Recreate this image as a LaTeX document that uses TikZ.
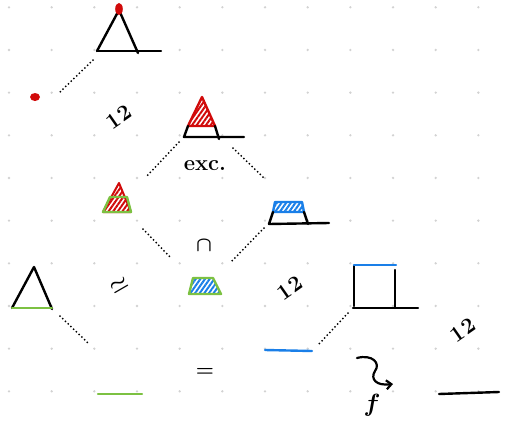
\documentclass[tikz,border=0pt]{standalone}
\usetikzlibrary{patterns.meta, arrows.meta}
\definecolor{inkRed}{HTML}{D10A0A}
\definecolor{inkGreen}{HTML}{7CC142}
\definecolor{inkBlue}{HTML}{1A7FE8}
\definecolor{gridDot}{HTML}{D2D2D2}

\begin{document}
\begin{tikzpicture}[x=1pt, y=-1pt,
  ink/.style={line width=2.4pt, line cap=round, line join=round},
  link/.style={line width=2pt, line cap=round, dash pattern=on 0pt off 3.8pt},
  hatchred/.style={pattern={Lines[angle=55,distance=3.8pt,line width=2pt]}, pattern color=inkRed},
  hatchblue/.style={pattern={Lines[angle=55,distance=3.8pt,line width=2pt]}, pattern color=inkBlue},
  lbl/.style={inner sep=0pt, font=\fontsize{22}{22}\selectfont\bfseries\boldmath}
]
\useasboundingbox (0,0) rectangle (509,426);
% dot grid
\foreach \i in {0,...,11}
  \foreach \j in {0,...,9}
    \fill[gridDot] (9+42.67*\i, 7.3+42.67*\j) circle (1.3);

% top triangle with red apex
\draw[ink] (97,51) -- (119,10) -- (138,53);
\draw[ink] (97,51) -- (161,51);
\fill[inkRed] (119,9) ellipse (3.8 and 6);
\fill[inkRed] (35,97) ellipse (5 and 4);
\coordinate (topL) at (93,60);
\coordinate (dotR) at (60,92);

% red hatched cone
\draw[ink, draw=inkRed, hatchred] (202,97) -- (188,126) -- (215,126) -- cycle;
\draw[ink] (188,126) -- (184,137) -- (244,137);
\draw[ink] (215,126) -- (219,139);
\coordinate (coneL) at (179,142);
\coordinate (coneR) at (233,148);

% red cone with green frustum
\draw[ink, line width=2pt, draw=inkRed, hatchred] (119,183) -- (103,212) -- (131,212) -- cycle;
\draw[ink, draw=inkGreen] (110,197) -- (127,197) -- (131,212) -- (103,212) -- cycle;
\coordinate (leftT) at (146,177);
\coordinate (leftB) at (143,229);

% blue frustum
\draw[ink, draw=inkBlue, hatchblue] (275,202) -- (302,202) -- (304,212) -- (273,212) -- cycle;
\draw[ink] (273,212) -- (269,224) -- (329,223);
\draw[ink] (304,212) -- (308,224);
\coordinate (rightT) at (265,179);
\coordinate (rightB) at (264,228);

% meet
\draw[ink, draw=inkGreen, hatchblue] (193,278) -- (213,278) -- (221,294) -- (189,294) -- cycle;
\coordinate (meetL) at (171,258);
\coordinate (meetR) at (231,262);

% bottom left triangle
\draw[ink] (12,308) -- (34,267) -- (52,309);
\draw[ink, draw=inkGreen] (12,308) -- (52,308);
\coordinate (triB) at (60,316);
\coordinate (greenT) at (88,343);
\draw[ink, draw=inkGreen] (98,394) -- (142,394);

% blue line and square
\draw[ink, draw=inkBlue] (265,350) -- (312,351);
\coordinate (blueR) at (319,344);
\draw[ink] (354,306) -- (354,266);
\draw[ink] (395,270) -- (395,308);
\draw[ink] (353,308) -- (418,308);
\draw[ink, draw=inkBlue] (354,265) -- (396,265);
\coordinate (sqL) at (348,313);
\draw[ink] (439,394) -- (499,392);

% squiggle map
\draw[ink, line width=2.2pt, -{Straight Barb[length=5pt, width=9pt]}]
  (357,358) .. controls (372,354) and (381,363) .. (375,371)
  .. controls (370,379) and (376,386) .. (393,384);

% dotted links
\draw[link] (topL) -- (dotR);
\draw[link] (coneL) -- (leftT);
\draw[link] (coneR) -- (rightT);
\draw[link] (leftB) -- (meetL);
\draw[link] (rightB) -- (meetR);
\draw[link] (triB) -- (greenT);
\draw[link] (sqL) -- (blueR);

% labels
\node[lbl, rotate=35] (iso1) at (119,117) {1\kern2pt2};
\node[lbl, rotate=35] (iso2) at (290,288) {1\kern2pt2};
\node[lbl, rotate=35] (iso3) at (463,330) {1\kern2pt2};
\node[lbl, rotate=30] (sim) at (119,285) {$\simeq$};
\node[lbl] (exc) at (205,166) {exc.};
\node[lbl] (meet) at (204,246) {$\cap$};
\node[lbl] (eq) at (205,372) {$=$};
\node[lbl, font=\fontsize{26}{26}\selectfont\boldmath] (f) at (372,405) {$f$};
\end{tikzpicture}
\end{document}
